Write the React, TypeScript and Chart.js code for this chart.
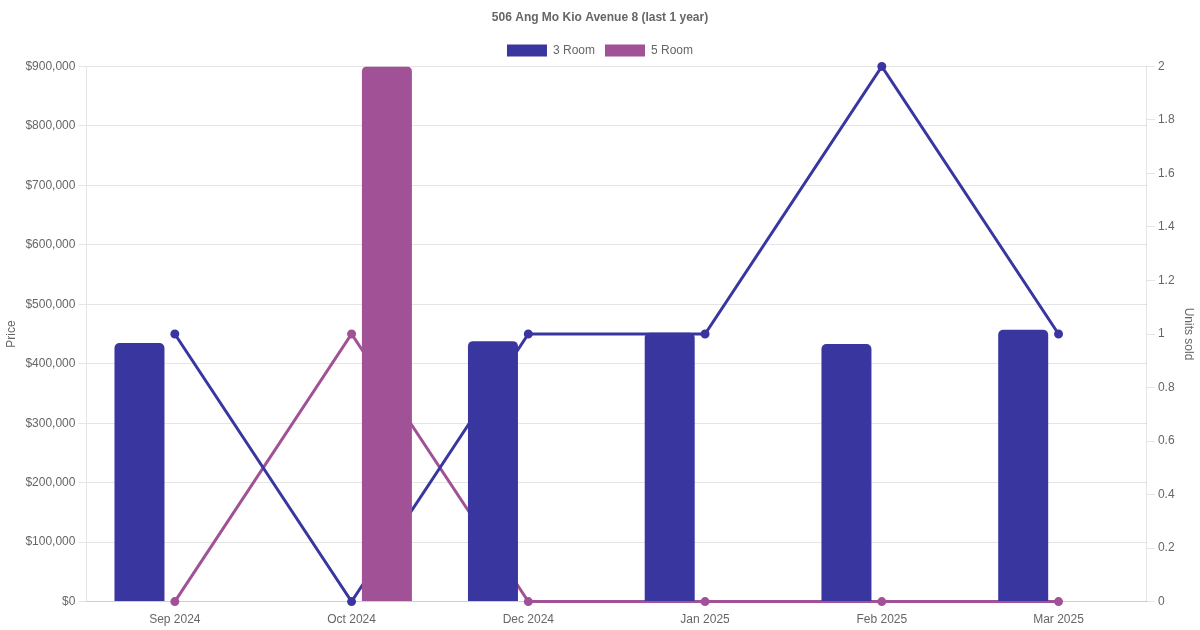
import React, { useRef, useEffect } from 'react';
import { Chart, registerables } from 'chart.js';

Chart.register(...registerables);

const months = ['Sep 2024', 'Oct 2024', 'Dec 2024', 'Jan 2025', 'Feb 2025', 'Mar 2025'];

// median price per month (null = no sale)
const price3Room = [435000, null, 438000, 452000, 433000, 457000];
const price5Room = [null, 900000, null, null, null, null];

// units sold per month
const units3Room = [1, 0, 1, 1, 2, 1];
const units5Room = [0, 1, 0, 0, 0, 0];

const BLUE = '#3a36a0';
const PURPLE = '#a15196';

function App() {
  const canvasRef = useRef<HTMLCanvasElement | null>(null);

  useEffect(() => {
    document.body.style.margin = '0';
    const ctx = canvasRef.current!.getContext('2d')!;

    const chart = new Chart(ctx, {
      type: 'bar',
      data: {
        labels: months,
        datasets: [
          {
            type: 'bar',
            label: '3 Room',
            data: price3Room,
            backgroundColor: BLUE,
            borderRadius: 5,
            maxBarThickness: 50,
            yAxisID: 'y',
          },
          {
            type: 'bar',
            label: '5 Room',
            data: price5Room,
            backgroundColor: PURPLE,
            borderRadius: 5,
            maxBarThickness: 50,
            yAxisID: 'y',
          },
          {
            type: 'line',
            label: '3 Room units',
            data: units3Room,
            borderColor: BLUE,
            backgroundColor: BLUE,
            borderWidth: 3,
            pointRadius: 3,
            tension: 0,
            clip: false,
            yAxisID: 'y1',
          },
          {
            type: 'line',
            label: '5 Room units',
            data: units5Room,
            borderColor: PURPLE,
            backgroundColor: PURPLE,
            borderWidth: 3,
            pointRadius: 3,
            tension: 0,
            clip: false,
            yAxisID: 'y1',
          },
        ] as any,
      },
      options: {
        animation: false,
        responsive: true,
        maintainAspectRatio: false,
        plugins: {
          title: {
            display: true,
            text: '506 Ang Mo Kio Avenue 8 (last 1 year)',
            color: '#666',
            font: { size: 12, weight: 'bold' },
          },
          legend: {
            labels: {
              color: '#666',
              filter: (item: any) => item.datasetIndex < 2,
            },
          },
        },
        scales: {
          x: {
            grid: { display: false },
            ticks: { color: '#666' },
          },
          y: {
            position: 'left',
            min: 0,
            max: 900000,
            ticks: {
              stepSize: 100000,
              color: '#666',
              callback: (v: any) => '$' + Number(v).toLocaleString('en-US'),
            },
            title: { display: true, text: 'Price', color: '#666' },
          },
          y1: {
            position: 'right',
            min: 0,
            max: 2,
            ticks: {
              stepSize: 0.2,
              color: '#666',
              callback: (v: any) => String(Number(Number(v).toFixed(1))),
            },
            grid: { drawOnChartArea: false },
            title: { display: true, text: 'Units sold', color: '#666' },
          },
        },
      } as any,
    });

    return () => {
      chart.destroy();
    };
  }, []);

  return (
    <div style={{ width: 1200, height: 630, position: 'relative' }}>
      <canvas ref={canvasRef}></canvas>
    </div>
  );
}

export default App;
